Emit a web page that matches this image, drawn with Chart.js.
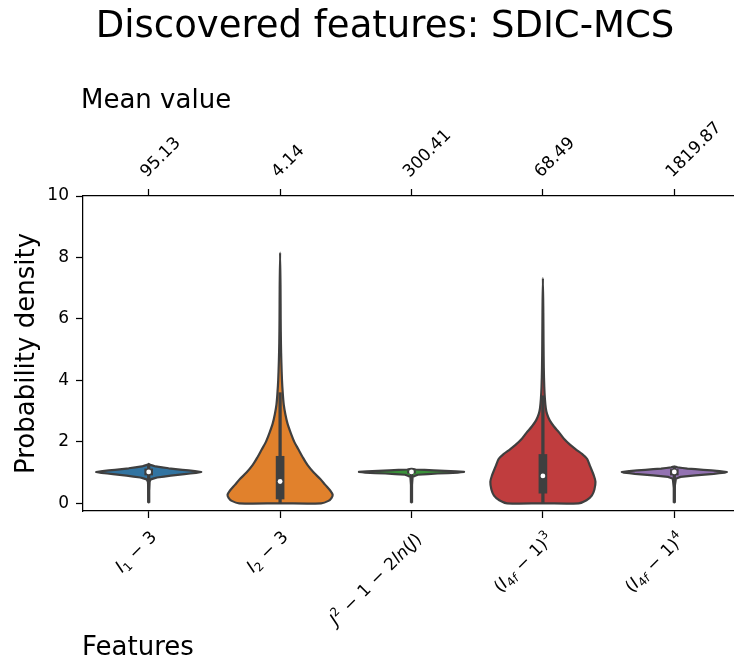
<!DOCTYPE html>
<html>
<head>
<meta charset="utf-8">
<script src="https://cdn.jsdelivr.net/npm/chart.js@4/dist/chart.umd.min.js"></script>
<style>
  html, body { margin: 0; padding: 0; background: #fff; overflow: hidden; }
  canvas { display: block; }
</style>
</head>
<body>
<canvas id="c" width="744" height="662"></canvas>
<script>
// ---- data ----------------------------------------------------------------
// feature names as math pieces: [text, kind]  (i = italic, sub/sup = scripts, op = binary operator)
const featureNames = [
  [['I', 'i'], ['1', 'sub'], ['\u2212', 'op'], ['3', 'n']],
  [['I', 'i'], ['2', 'sub'], ['\u2212', 'op'], ['3', 'n']],
  [['J', 'i'], ['2', 'sup'], ['\u2212', 'op'], ['1', 'n'], ['\u2212', 'op'], ['2', 'n'], ['ln', 'i'], ['(', 'n'], ['J', 'i'], [')', 'n']],
  [['(', 'n'], ['I', 'i'], ['4', 'sub'], ['f', 'subi'], ['\u2212', 'op'], ['1', 'n'], [')', 'n'], ['3', 'sup']],
  [['(', 'n'], ['I', 'i'], ['4', 'sub'], ['f', 'subi'], ['\u2212', 'op'], ['1', 'n'], [')', 'n'], ['4', 'sup']]
];
const meanValues = ['95.13', '4.14', '300.41', '68.49', '1819.87'];
const yTickValues = [0, 2, 4, 6, 8, 10];
const violinColors = ['#3274a1', '#e1812c', '#3a923a', '#c03d3e', '#9372b2'];

// kernel density estimates: evaluation heights and density relative to each violin's peak
const kdeY_I1 = [0.03, 0.4, 0.7, 0.78, 0.84, 0.9, 0.95, 0.99, 1.02, 1.05, 1.09, 1.14, 1.2, 1.25, 1.28];
const kdeD_I1 = [0, 0.004, 0.015, 0.04, 0.16, 0.42, 0.68, 0.9, 1.0, 0.88, 0.64, 0.38, 0.13, 0.03, 0];

const kdeY_I2 = [0, 0.08, 0.18, 0.28, 0.4, 0.6, 0.8, 1.0, 1.25, 1.5, 1.75, 2.0, 2.3, 2.6, 2.9, 3.2, 3.6, 4.0, 4.6, 5.2, 6.0, 7.0, 8.16];
const kdeD_I2 = [0.78, 0.92, 0.98, 1.0, 0.96, 0.86, 0.76, 0.64, 0.52, 0.43, 0.35, 0.27, 0.2, 0.14, 0.1, 0.07, 0.05, 0.036, 0.024, 0.016, 0.011, 0.008, 0];

const kdeY_J = [0.03, 0.5, 0.86, 0.93, 0.97, 1.0, 1.02, 1.04, 1.07, 1.1, 1.12];
const kdeD_J = [0, 0.003, 0.02, 0.12, 0.5, 0.88, 1.0, 0.85, 0.42, 0.08, 0];

const kdeY_I4f3 = [0, 0.1, 0.25, 0.45, 0.7, 0.9, 1.2, 1.45, 1.6, 1.75, 1.9, 2.1, 2.3, 2.5, 2.7, 2.9, 3.1, 3.4, 3.8, 4.4, 5.2, 6.2, 7.33];
const kdeD_I4f3 = [0.68, 0.83, 0.93, 0.98, 1.0, 0.97, 0.9, 0.84, 0.75, 0.63, 0.52, 0.4, 0.31, 0.21, 0.13, 0.08, 0.055, 0.038, 0.026, 0.017, 0.012, 0.008, 0];

const kdeY_I4f4 = [0.03, 0.5, 0.8, 0.86, 0.91, 0.96, 1.0, 1.02, 1.05, 1.09, 1.13, 1.17, 1.2];
const kdeD_I4f4 = [0, 0.004, 0.03, 0.12, 0.4, 0.75, 0.96, 1.0, 0.86, 0.55, 0.25, 0.06, 0];

// inner box statistics
const whiskerLow  = [0.03, 0.0, 0.03, 0.0, 0.03];
const quartile1   = [0.92, 0.14, 0.98, 0.33, 0.92];
const medians     = [1.02, 0.71, 1.02, 0.89, 1.02];
const quartile3   = [1.12, 1.53, 1.06, 1.59, 1.10];
const whiskerHigh = [1.25, 3.6, 1.10, 3.5, 1.20];

// ---- build datasets ------------------------------------------------------
const kdeYs = [kdeY_I1, kdeY_I2, kdeY_J, kdeY_I4f3, kdeY_I4f4];
const kdeDs = [kdeD_I1, kdeD_I2, kdeD_J, kdeD_I4f3, kdeD_I4f4];
const HALF_WIDTH = 0.4;     // violin half-width at peak density (x units)
const EDGE = '#3f3f3f';

function violinOutline(i, ys, ds) {
  const pts = [];
  const n = ys.length;
  if (ds[0] > 0) pts.push({ x: i, y: ys[0] });
  for (let k = 0; k < n; k++) pts.push({ x: i + HALF_WIDTH * ds[k], y: ys[k] });
  for (let k = (ds[n - 1] === 0 ? n - 2 : n - 1); k >= 0; k--) pts.push({ x: i - HALF_WIDTH * ds[k], y: ys[k] });
  pts.push({ x: i, y: ys[0] });
  return pts;
}

const datasets = [];
kdeYs.forEach((ys, i) => {
  const broad = Math.max(...ys) - Math.min(...ys) > 3;
  datasets.push({
    type: 'scatter',
    data: violinOutline(i, ys, kdeDs[i]),
    showLine: true,
    violinFill: violinColors[i],
    borderColor: EDGE,
    borderWidth: 2.2,
    borderJoinStyle: 'round',
    borderCapStyle: 'round',
    tension: broad ? 0.3 : 0.001,
    pointRadius: 0,
    order: 3
  });
});
datasets.push({
  type: 'bar',
  data: whiskerLow.map((lo, i) => ({ x: i, y: [lo, whiskerHigh[i]] })),
  backgroundColor: EDGE,
  barThickness: 2.6,
  grouped: false,
  borderWidth: 0,
  order: 2
});
datasets.push({
  type: 'bar',
  data: quartile1.map((q, i) => ({ x: i, y: [q, quartile3[i]] })),
  backgroundColor: EDGE,
  barThickness: 8,
  grouped: false,
  borderWidth: 0,
  order: 1
});
datasets.push({
  type: 'scatter',
  data: medians.map((m, i) => ({ x: i, y: m })),
  pointRadius: 2.4,
  pointBackgroundColor: '#ffffff',
  pointBorderWidth: 0,
  order: 0
});

// ---- plugins -------------------------------------------------------------
const FONT = 'DejaVu Sans';

// fills each violin body along the same curved path the line element strokes
const violinFillPlugin = {
  id: 'violinFill',
  beforeDatasetDraw(chart, args) {
    const ds = chart.data.datasets[args.index];
    const line = args.meta.dataset;
    if (!ds.violinFill || !line) return;
    const ctx = chart.ctx;
    line.updateControlPoints(chart.chartArea, 'x');
    ctx.save();
    ctx.beginPath();
    line.path(ctx);
    ctx.closePath();
    ctx.fillStyle = ds.violinFill;
    ctx.fill();
    ctx.restore();
  }
};

function segFont(kind, fs) {
  const small = (fs * 0.7).toFixed(1);
  if (kind === 'i') return `italic ${fs}px "${FONT}"`;
  if (kind === 'sub' || kind === 'sup') return `${small}px "${FONT}"`;
  if (kind === 'subi') return `italic ${small}px "${FONT}"`;
  return `${fs}px "${FONT}"`;
}
function segShift(kind, fs) {
  if (kind === 'sub' || kind === 'subi') return 0.2 * fs;
  if (kind === 'sup') return -0.42 * fs;
  return 0;
}
function drawMathLabel(ctx, segs, fs, ax, ay) {
  const gap = 0.37 * fs;
  let x = 0;
  const items = [];
  let hasSup = false;
  for (const [t, kind] of segs) {
    ctx.font = segFont(kind, fs);
    if (kind === 'op') x += gap;
    if (kind === 'sup') hasSup = true;
    items.push({ t, kind, x });
    x += ctx.measureText(t).width;
    if (kind === 'op') x += gap;
  }
  const width = x;
  const h = hasSup ? 0.4 * fs + 0.73 * 0.7 * fs : 0.73 * fs;
  const c = Math.SQRT1_2;
  ctx.save();
  ctx.translate(ax + h * c, ay + h * c);
  ctx.rotate(-Math.PI / 4);
  ctx.textAlign = 'left';
  ctx.textBaseline = 'alphabetic';
  ctx.fillStyle = '#000';
  for (const it of items) {
    ctx.font = segFont(it.kind, fs);
    ctx.fillText(it.t, it.x - width, segShift(it.kind, fs));
  }
  ctx.restore();
}

const textPlugin = {
  id: 'texts',
  afterDraw(chart) {
    const ctx = chart.ctx;
    const xs = chart.scales.x;
    const area = chart.chartArea;
    ctx.save();
    ctx.fillStyle = '#000';
    ctx.textBaseline = 'alphabetic';

    ctx.font = `37px "${FONT}"`;
    ctx.textAlign = 'center';
    ctx.fillText('Discovered features: SDIC-MCS', 385, 37);

    ctx.font = `26px "${FONT}"`;
    ctx.textAlign = 'left';
    ctx.fillText('Mean value', 81, 108);
    ctx.fillText('Features', 82, 655);

    ctx.save();
    ctx.translate(33.5, (area.top + area.bottom) / 2);
    ctx.rotate(-Math.PI / 2);
    ctx.textAlign = 'center';
    ctx.fillText('Probability density', 0, 0);
    ctx.restore();

    // mean values along the top axis
    ctx.font = `17px "${FONT}"`;
    meanValues.forEach((m, i) => {
      const px = xs.getPixelForValue(i);
      ctx.save();
      ctx.translate(px - 2, 178);
      ctx.rotate(-Math.PI / 4);
      ctx.textAlign = 'left';
      ctx.fillText(m, 0, 0);
      ctx.restore();
    });

    // feature names under the bottom axis
    featureNames.forEach((segs, i) => {
      const px = xs.getPixelForValue(i);
      drawMathLabel(ctx, segs, 17, px, area.bottom + 18);
    });
    ctx.restore();
  }
};

// ---- chart ---------------------------------------------------------------
const tickAxis = (position, height) => ({
  type: 'linear',
  position,
  min: -0.5,
  max: 4.5,
  offset: false,
  afterBuildTicks: s => { s.ticks = featureNames.map((_, i) => ({ value: i })); },
  afterFit: s => { s.height = height; },
  ticks: { display: false },
  grid: { offset: false, drawOnChartArea: false, drawTicks: true, tickLength: 7, tickWidth: 1.25, tickColor: '#000' },
  border: { display: true, color: '#000', width: 1.25 }
});

new Chart(document.getElementById('c'), {
  type: 'scatter',
  data: { datasets },
  options: {
    responsive: false,
    animation: false,
    devicePixelRatio: 1,
    events: [],
    layout: { padding: 0 },
    plugins: {
      legend: { display: false },
      tooltip: { enabled: false },
      title: { display: false }
    },
    scales: {
      x: tickAxis('bottom', 151),
      xTop: tickAxis('top', 196),
      y: {
        type: 'linear',
        min: -0.25,
        max: 10,
        afterBuildTicks: s => { s.ticks = yTickValues.map(v => ({ value: v })); },
        afterFit: s => { s.width = 83; },
        ticks: { color: '#000', font: { family: FONT, size: 17 }, padding: 7 },
        grid: { drawOnChartArea: false, drawTicks: true, tickLength: 7, tickWidth: 1.25, tickColor: '#000' },
        border: { display: true, color: '#000', width: 1.25 }
      }
    }
  },
  plugins: [violinFillPlugin, textPlugin]
});
</script>
</body>
</html>
